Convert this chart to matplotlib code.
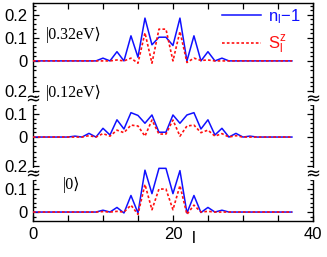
#!/usr/bin/env python

# plot.py - site profiles of n_l-1 and S^z_l for three states, stacked with broken axis

# require
import matplotlib
matplotlib.use( 'Agg' )
import matplotlib.pyplot as plt
import matplotlib.transforms as mtransforms
import numpy as np

# configure
plt.rcParams[ 'font.family' ]      = [ 'Liberation Sans', 'DejaVu Sans' ]
plt.rcParams[ 'mathtext.fontset' ] = 'custom'
plt.rcParams[ 'mathtext.rm' ]      = 'Liberation Sans'
plt.rcParams[ 'mathtext.it' ]      = 'Liberation Sans'
plt.rcParams[ 'font.size' ]        = 12

OFFSETS = [ 0.657, 0.326, 0.0 ]          # vertical shift of each panel
BREAKS  = [ 0.4915, 0.1655 ]             # where the axis is broken
SERIF   = [ 'Liberation Serif', 'DejaVu Sans' ]

# data
sites  = np.arange( 38 )
states = [ '|0.32eV⟩', '|0.12eV⟩', '|0⟩' ]

n_032 = [ 0, 0, 0, 0, 0, 0, 0, 0, 0, 0.0, 0.012, 0.0, 0.04, 0.0, 0.109, 0.016, 0.186, 0.07, 0.103,
          0.103, 0.067, 0.186, 0.0, 0.109, 0.0, 0.04, 0.0, 0.012, 0.0, 0, 0, 0, 0, 0, 0, 0, 0, 0 ]
s_032 = [ 0, 0, 0, 0, 0, 0, 0, 0, 0, 0.0, 0.0, 0.0, 0.004, 0.0, 0.012, -0.01, 0.122, -0.01, 0.138,
          0.138, 0.0, 0.128, -0.007, 0.012, 0.002, 0.004, 0.0, 0.0, 0, 0, 0, 0, 0, 0, 0, 0, 0, 0 ]

n_012 = [ 0, 0, 0, 0, 0, 0, 0.004, 0.0, 0.016, 0.0, 0.038, 0.009, 0.075, 0.035, 0.106, 0.094, 0.06, 0.096, 0.021,
          0.021, 0.096, 0.06, 0.096, 0.106, 0.035, 0.075, 0.009, 0.038, 0.0, 0.016, 0.0, 0.004, 0, 0, 0, 0, 0, 0 ]
s_012 = [ 0, 0, 0, 0, 0, 0, 0, 0, 0.006, 0.0, 0.015, 0.004, 0.03, 0.019, 0.052, 0.048, 0.004, 0.074, 0.013,
          0.013, 0.074, 0.004, 0.048, 0.052, 0.019, 0.03, 0.004, 0.015, 0.0, 0.006, 0, 0, 0, 0, 0, 0, 0, 0 ]

n_0   = [ 0, 0, 0, 0, 0, 0, 0, 0, 0, 0.0, 0.008, 0.0, 0.02, -0.004, 0.072, -0.004, 0.182, 0.08, 0.19,
          0.19, 0.08, 0.18, -0.004, 0.072, -0.002, 0.02, 0.0, 0.008, 0, 0, 0, 0, 0, 0, 0, 0, 0, 0 ]
s_0   = [ 0, 0, 0, 0, 0, 0, 0, 0, 0, 0.0, 0.002, 0.0, 0.003, 0.0, 0.03, -0.01, 0.12, 0.01, 0.1,
          0.1, 0.01, 0.115, -0.01, 0.03, 0.0, 0.003, 0, 0, 0, 0, 0, 0, 0, 0, 0, 0, 0, 0 ]

charges = [ n_032, n_012, n_0 ]
spins   = [ s_032, s_012, s_0 ]

# build the visualization
fig = plt.figure( figsize=( 3.27, 2.57 ), dpi=100 )
ax  = fig.add_axes( [ 0.1009, 0.140, 0.856, 0.8495 ] )

for i, ( n, s ) in enumerate( zip( charges, spins ) ) :
	off = OFFSETS[ i ]
	ax.plot( sites, np.array( n ) + off, color='#1010ff', lw=1.1, label=r'n$_\mathregular{l}$$-$1' if i == 0 else None, zorder=3 )
	ax.plot( sites, np.array( s ) + off, color='#ff1010', lw=1.2, ls=( 0, ( 1.6, 1.3 ) ), label=r'S$^\mathregular{z}_\mathregular{l}$' if i == 0 else None, zorder=4 )

ax.set_xlim( 0, 40 )
ax.set_ylim( -0.039, 0.910 )

# x ticks every 5, labelled every 20
xt = np.arange( 0, 41, 5 )
ax.set_xticks( xt )
ax.set_xticklabels( [ str( v ) if v % 20 == 0 else '' for v in xt ] )

# y ticks: 0, 0.1, 0.2 in each panel, minor every 0.02
majors, labels, minors = [], [], []
lows  = [ -0.04, -0.04, -0.02 ]
highs = [ 0.24, 0.26, 0.26 ]
for off, lo, hi in zip( OFFSETS, lows, highs ) :
	for v in [ 0.0, 0.1, 0.2 ] :
		majors.append( off + v )
		labels.append( '0' if v == 0 else '%.1f' % v )
	for v in np.arange( lo, hi + 0.001, 0.02 ) :
		if abs( v - round( v, 1 ) ) > 0.001 : minors.append( off + v )
ax.set_yticks( majors )
ax.set_yticklabels( labels )
ax.set_yticks( minors, minor=True )

ax.tick_params( which='both', direction='in', top=True, right=True, width=0.9 )
ax.tick_params( which='major', length=4, pad=4 )
ax.tick_params( which='minor', length=2.2 )
for sp in ax.spines.values() : sp.set_linewidth( 1.0 )

# break marks on both sides
trans = mtransforms.blended_transform_factory( ax.transAxes, ax.transData )
for y in BREAKS :
	for x in [ 0, 1 ] :
		ax.plot( [ x, x ], [ y - 0.018, y + 0.018 ], transform=trans, color='white', lw=3, clip_on=False, zorder=5 )
		ax.text( x, y, '≈', transform=trans, ha='center', va='center', fontsize=13, family=[ 'DejaVu Sans' ], clip_on=False, zorder=6 )

# state labels
ax.text( 1.8, OFFSETS[ 0 ] + 0.115, states[ 0 ], family=SERIF, fontsize=11.5, va='center' )
ax.text( 1.8, OFFSETS[ 1 ] + 0.19, states[ 1 ], family=SERIF, fontsize=11.5, va='center' )
ax.text( 4.2, OFFSETS[ 2 ] + 0.12, states[ 2 ], family=SERIF, fontsize=11.5, va='center' )

# axis label
ax.text( 0.575, -0.078, 'l', transform=ax.transAxes, ha='center', va='center' )

ax.legend( loc='upper right', bbox_to_anchor=( 0.99, 1.025 ), frameon=False, handlelength=2.35, handletextpad=0.4,
           labelspacing=0.45, labelcolor='linecolor', borderaxespad=0.2 )

# output and done
plt.savefig( 'out.png', dpi=100 )
